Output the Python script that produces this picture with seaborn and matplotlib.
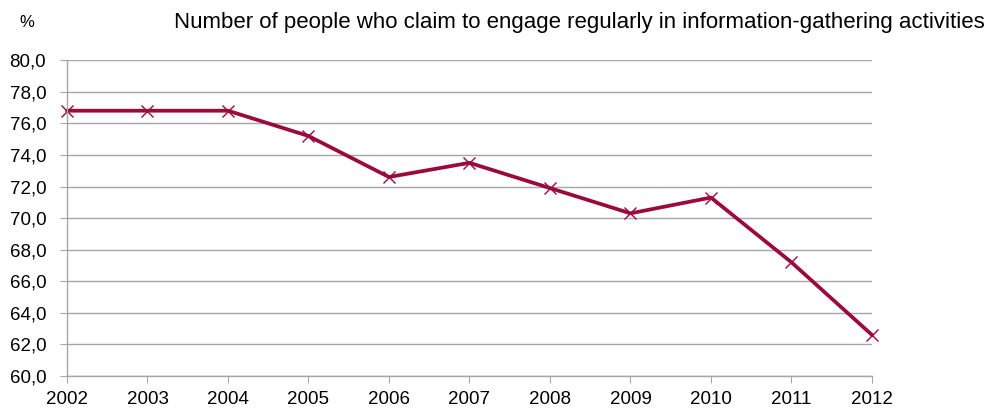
import matplotlib
matplotlib.use("Agg")
import matplotlib.pyplot as plt
import seaborn as sns
import pandas as pd
from matplotlib.ticker import FuncFormatter

years = [2002, 2003, 2004, 2005, 2006, 2007, 2008, 2009, 2010, 2011, 2012]
values = [76.8, 76.8, 76.8, 75.2, 72.6, 73.5, 71.9, 70.3, 71.3, 67.2, 62.6]
title = "Number of people who claim to engage regularly in information-gathering activities"

sns.set_style("white")
plt.rcParams['font.family'] = ['Liberation Sans Narrow', 'Liberation Sans', 'DejaVu Sans']
plt.rcParams['text.color'] = 'black'
plt.rcParams['xtick.labelcolor'] = 'black'
plt.rcParams['ytick.labelcolor'] = 'black'

df = pd.DataFrame({"year": years, "value": values})
fig = plt.figure(figsize=(9.92, 4.15), dpi=100)
ax = fig.add_axes([0.0675, 0.094, 0.8115, 0.761])
sns.lineplot(data=df, x="year", y="value", ax=ax, color="#9B0A3C", linewidth=2.7,
             marker="x", markersize=9, markeredgewidth=1.0, markeredgecolor="#9B0A3C",
             clip_on=False)
ax.set_xlim(2002, 2012)
ax.set_ylim(60, 80)
ax.set_yticks([60 + 2 * i for i in range(11)])
ax.set_xticks(years)
ax.yaxis.set_major_formatter(FuncFormatter(lambda v, p: f"{v:.1f}".replace(".", ",")))
ax.grid(axis="y", color="#A6A6A6", linewidth=1)
ax.set_axisbelow(True)
for s in ["top", "right"]:
    ax.spines[s].set_visible(False)
for s in ["left", "bottom"]:
    ax.spines[s].set_color("#A6A6A6")
    ax.spines[s].set_linewidth(1)
ax.tick_params(axis="x", bottom=True, length=5, color="#A6A6A6", labelcolor="black", labelsize=13.5, pad=6)
ax.tick_params(axis="y", left=True, length=5, color="#A6A6A6", labelcolor="black", labelsize=13.5, pad=10)
ax.set_xlabel("")
ax.set_ylabel("")
fig.text(0.02, 0.945, "%", fontsize=12, ha="left", va="center", color="black")
fig.text(0.993, 0.945, title, fontsize=16, ha="right", va="center", color="black")
fig.savefig("out.png", dpi=100)
